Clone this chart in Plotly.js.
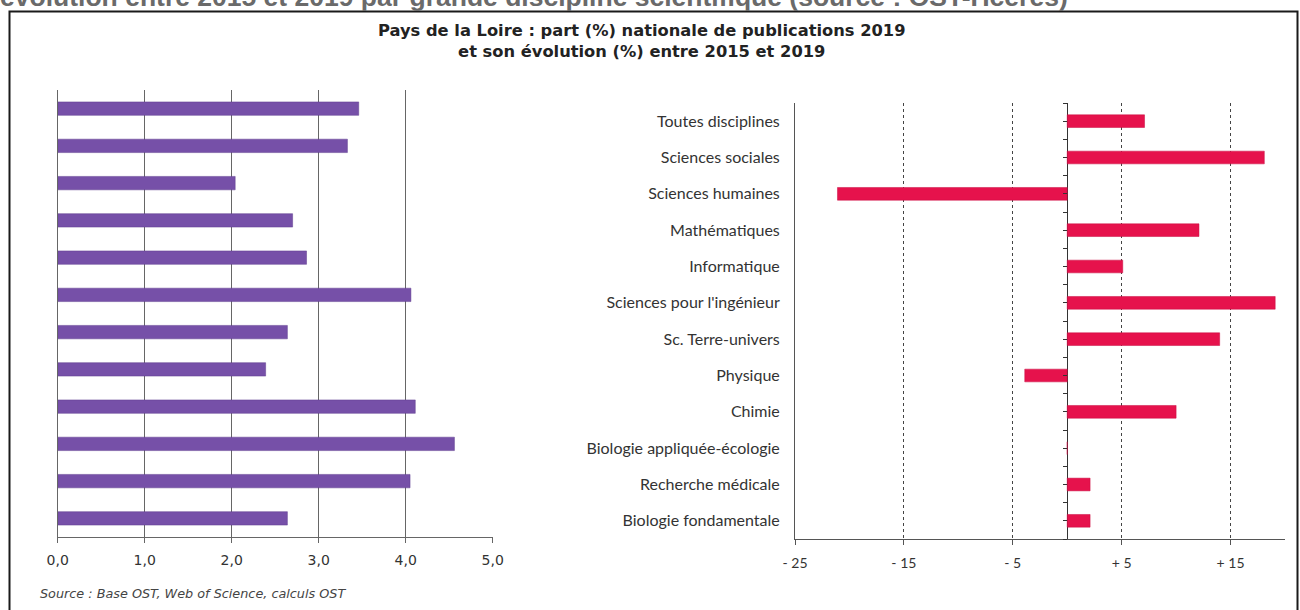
<!DOCTYPE html>
<html>
<head>
<meta charset="utf-8">
<script src="https://cdn.plot.ly/plotly-3.0.1.min.js"></script>
<style>html,body{margin:0;padding:0;background:#fff;}#chart{width:1300px;height:610px;}</style>
</head>
<body>
<div id="chart"></div>
<script>
// ---- data ----
const categories = ['Toutes disciplines','Sciences sociales','Sciences humaines','Mathématiques','Informatique',"Sciences pour l'ingénieur",'Sc. Terre-univers','Physique','Chimie','Biologie appliquée-écologie','Recherche médicale','Biologie fondamentale'];
const part2019 = [3.46,3.33,2.04,2.70,2.86,4.06,2.64,2.39,4.11,4.56,4.05,2.64];
const evolution = [7.1,18.1,-21.1,12.1,5.1,19.1,14.0,-3.9,10.0,0,2.1,2.1];
const evoTickVals = [-25,-15,-5,5,15];
const evoTickText = ['- 25','- 15','- 5','+ 5','+ 15'];
const titleText = 'Pays de la Loire : part (%) nationale de publications 2019<br>et son évolution (%) entre 2015 et 2019';
const topText = 'évolution entre 2015 et 2019 par grande discipline scientifique (source : OST-Hcéres)';
const sourceText = 'Source : Base OST, Web of Science, calculs OST';

// ---- layout geometry (pixels -> paper fractions) ----
const W = 1300, H = 610;
const px = v => v / W, py = v => 1 - v / H;
const x2Range = [-25, 20];
const x2Dom = [px(795), px(1285)];
const zeroPos = x2Dom[0] + (0 - x2Range[0]) / (x2Range[1] - x2Range[0]) * (x2Dom[1] - x2Dom[0]);

const traces = [
  {type:'bar', orientation:'h', x: part2019, y: categories, xaxis:'x', yaxis:'y',
   marker:{color:'#7650a8', line:{color:'#5e3c8f', width:0.5}}, width:0.36, hoverinfo:'x+y'},
  {type:'bar', orientation:'h', x: evolution, y: categories, xaxis:'x2', yaxis:'y2',
   marker:{color:'#e6124c', line:{color:'#c90d40', width:0.5}}, width:0.35, hoverinfo:'x+y'},
  {type:'scatter', mode:'markers', x:[], y:[], xaxis:'x2', yaxis:'y3', hoverinfo:'skip', showlegend:false}
];

const layout = {
  width: W, height: H,
  margin:{l:0, r:0, t:0, b:0},
  paper_bgcolor:'#ffffff', plot_bgcolor:'rgba(0,0,0,0)',
  showlegend:false,
  separators:', ',
  xaxis:{domain:[px(57.7), px(492.7)], range:[0,5], dtick:1, tick0:0, tickformat:'.1f',
         showgrid:true, gridcolor:'#666', gridwidth:1, zeroline:false,
         showline:true, linecolor:'#666', linewidth:1,
         ticks:'outside', ticklen:5, tickcolor:'#666', ticklabelstandoff:5,
         tickfont:{family:'DejaVu Sans', size:14, color:'#333'}, anchor:'y', fixedrange:true},
  yaxis:{domain:[py(537), py(90)], type:'category', autorange:'reversed',
         showticklabels:false, showgrid:false, zeroline:false,
         showline:true, linecolor:'#666', linewidth:1, ticks:'', anchor:'x', fixedrange:true},
  xaxis2:{domain:x2Dom, range:x2Range, tickvals:evoTickVals, ticktext:evoTickText,
          showgrid:true, gridcolor:'#444', griddash:'dot', gridwidth:1,
          zeroline:true, zerolinecolor:'#333', zerolinewidth:1,
          showline:true, linecolor:'#555', linewidth:1,
          ticks:'outside', ticklen:5, tickcolor:'#555', ticklabelstandoff:6,
          tickfont:{family:'Lato', size:14, color:'#333'}, anchor:'y2', fixedrange:true},
  yaxis2:{domain:[py(539), py(103)], type:'category', autorange:'reversed',
          showgrid:false, zeroline:false, showline:true, linecolor:'#555', linewidth:1,
          ticks:'', ticklabelstandoff:11,
          tickfont:{family:'Lato', size:16, color:'#333'}, anchor:'x2', fixedrange:true},
  yaxis3:{overlaying:'y2', anchor:'free', position:zeroPos, range:[11.5,-0.5],
          tick0:-0.5, dtick:0.5, showticklabels:false, showgrid:false, zeroline:false,
          showline:false, ticks:'outside', ticklen:4, tickcolor:'#333', fixedrange:true},
  annotations:[
    {text:titleText, xref:'paper', yref:'paper', x:px(641), y:py(41), xanchor:'center', yanchor:'middle',
     showarrow:false, align:'center', font:{family:'DejaVu Sans', size:16.3, color:'#222', weight:'bold'}},
    {text:topText, xref:'paper', yref:'paper', x:px(-2), y:py(14), xanchor:'left', yanchor:'bottom',
     showarrow:false, font:{family:'Liberation Sans', size:26.5, color:'#6a6a6a', weight:'bold'}},
    {text:'<i>'+sourceText+'</i>', xref:'paper', yref:'paper', x:px(38), y:py(593), xanchor:'left', yanchor:'middle',
     showarrow:false, font:{family:'DejaVu Sans', size:12.8, color:'#444'}}
  ],
  shapes:[
    {type:'rect', xref:'paper', yref:'paper', x0:px(9.5), x1:px(1297.5), y0:-0.2, y1:py(11.5),
     line:{color:'#1a1a1a', width:2}, fillcolor:'rgba(0,0,0,0)', layer:'above'}
  ]
};

Plotly.newPlot('chart', traces, layout, {displayModeBar:false, staticPlot:true});
</script>
</body>
</html>
